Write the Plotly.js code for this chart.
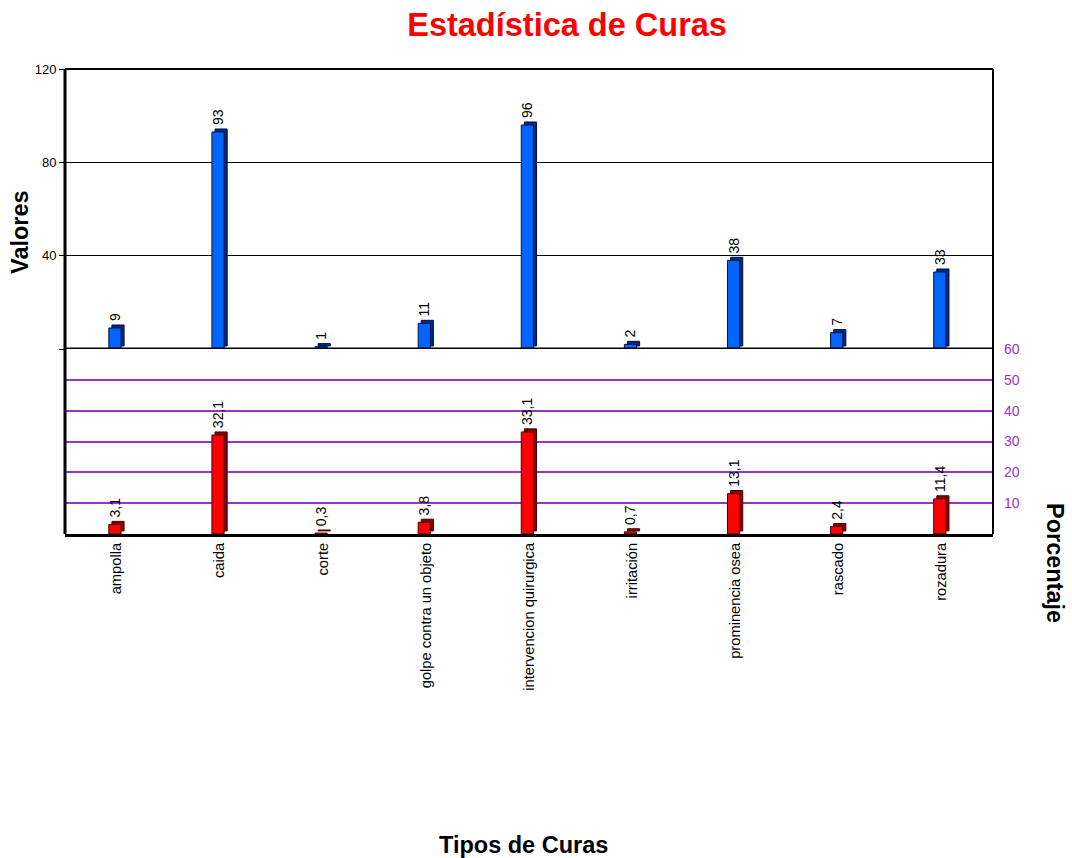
<!DOCTYPE html>
<html>
<head>
<meta charset="utf-8">
<script src="https://cdn.plot.ly/plotly-3.0.1.min.js"></script>
<style>
  html, body { margin: 0; padding: 0; background: #ffffff; }
  #chart { width: 1072px; height: 858px; }
</style>
</head>
<body>
<div id="chart"></div>
<script>
// Tipos de curas y sus totales
const categorias = [
  "ampolla", "caida", "corte", "golpe contra un objeto",
  "intervencion quirurgica", "irritación", "prominencia osea",
  "rascado", "rozadura"
];
const valores = [9, 93, 1, 11, 96, 2, 38, 7, 33];
const porcentajes = [3.1, 32.1, 0.3, 3.8, 33.1, 0.7, 13.1, 2.4, 11.4];

const valoresTicks = [0, 40, 80, 120];
const valoresTickText = ["", "40", "80", "120"];
const porcentajeTicks = [10, 20, 30, 40, 50, 60];

const FONT = "Liberation Sans, Arial, sans-serif";
const PURPLE = "#9933cc";

// Bar geometry in category units: front face plus a darker side face
const BAR_W = 0.118;
const FRONT_OFF = -0.075;
const SIDE_OFF = -0.045;

// value labels sit a little above each bar
const LABEL = "\u00a0%{y}";

const traces = [
  // side faces (drawn first, behind the fronts)
  {
    type: "bar", x: categorias, y: valores, base: 1.3,
    xaxis: "x", yaxis: "y",
    width: BAR_W, offset: SIDE_OFF,
    marker: { color: "#002a80", line: { color: "#001040", width: 1 } },
    hoverinfo: "skip", showlegend: false
  },
  {
    type: "bar", x: categorias, y: valores,
    xaxis: "x", yaxis: "y",
    width: BAR_W, offset: FRONT_OFF,
    marker: { color: "#0066ff", line: { color: "#001040", width: 1 } },
    texttemplate: LABEL, textposition: "outside", textangle: -90,
    constraintext: "none", cliponaxis: false,
    textfont: { family: FONT, size: 14, color: "#000000" },
    showlegend: false
  },
  {
    type: "bar", x: categorias, y: porcentajes, base: 1.0,
    xaxis: "x", yaxis: "y2",
    width: BAR_W, offset: SIDE_OFF,
    marker: { color: "#8a0000", line: { color: "#400000", width: 1 } },
    hoverinfo: "skip", showlegend: false
  },
  {
    type: "bar", x: categorias, y: porcentajes,
    xaxis: "x", yaxis: "y2",
    width: BAR_W, offset: FRONT_OFF,
    marker: { color: "#ff0000", line: { color: "#400000", width: 1 } },
    texttemplate: LABEL, textposition: "outside", textangle: -90,
    constraintext: "none", cliponaxis: false,
    textfont: { family: FONT, size: 14, color: "#000000" },
    showlegend: false
  }
];

const SPLIT = 185 / 465;

const layout = {
  width: 1072, height: 858,
  margin: { l: 65, r: 79, t: 69, b: 324 },
  paper_bgcolor: "#ffffff", plot_bgcolor: "#ffffff",
  separators: ",.",
  barmode: "overlay",
  font: { family: FONT, color: "#000000" },
  title: {
    text: "<b>Estadística de Curas</b>",
    font: { family: FONT, size: 32.5, color: "#ff0000" },
    x: 0.529, xanchor: "center", y: 0.971, yanchor: "middle"
  },
  xaxis: {
    anchor: "y2", type: "category", range: [-0.5, 8.5],
    tickangle: -90, ticks: "", tickfont: { family: FONT, size: 14.7, color: "#000000" },
    showline: true, linecolor: "#000000", linewidth: 3,
    showgrid: false, zeroline: false
  },
  yaxis: {
    domain: [SPLIT, 1], range: [0, 120],
    tickvals: valoresTicks, ticktext: valoresTickText,
    ticks: "outside", ticklen: 5, tickcolor: "#000000",
    tickfont: { family: FONT, size: 13, color: "#000000" },
    showgrid: true, gridcolor: "#000000", gridwidth: 1,
    zeroline: false, showline: false
  },
  yaxis2: {
    domain: [0, SPLIT], range: [0, 60], side: "right", anchor: "x",
    tickvals: porcentajeTicks, ticks: "", ticklabelstandoff: 10,
    tickfont: { family: FONT, size: 14, color: PURPLE },
    showgrid: true, gridcolor: PURPLE, gridwidth: 2,
    zeroline: false, showline: false
  },
  shapes: [
    { type: "line", xref: "paper", yref: "paper", x0: 0, x1: 1, y0: 1, y1: 1,
      line: { color: "#000000", width: 2 } },
    { type: "line", xref: "paper", yref: "paper", x0: 0, x1: 0, y0: 0, y1: 1,
      line: { color: "#000000", width: 3 } },
    { type: "line", xref: "paper", yref: "paper", x0: 1, x1: 1, y0: 0, y1: 1,
      line: { color: "#000000", width: 2 } },
    { type: "line", xref: "paper", yref: "y", x0: 0, x1: 1, y0: 0, y1: 0,
      line: { color: "#000000", width: 3 } }
  ],
  annotations: [
    { text: "<b>Valores</b>", xref: "paper", yref: "paper",
      x: -0.0485, y: 0.6495, xanchor: "center", yanchor: "middle",
      textangle: -90, showarrow: false,
      font: { family: FONT, size: 23.5, color: "#000000" } },
    { text: "<b>Porcentaje</b>", xref: "paper", yref: "paper",
      x: 1.0668, y: -0.0624, xanchor: "center", yanchor: "middle",
      textangle: 90, showarrow: false,
      font: { family: FONT, size: 23.5, color: "#000000" } },
    { text: "<b>Tipos de Curas</b>", xref: "paper", yref: "paper",
      x: 0.4946, y: -0.669, xanchor: "center", yanchor: "middle",
      showarrow: false,
      font: { family: FONT, size: 23.5, color: "#000000" } }
  ]
};

Plotly.newPlot("chart", traces, layout, { displayModeBar: false, staticPlot: true });
</script>
</body>
</html>
